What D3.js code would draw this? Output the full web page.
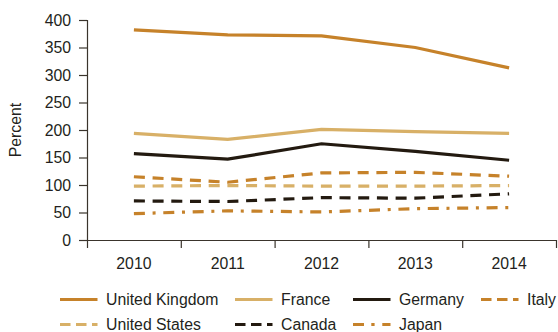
<!DOCTYPE html>
<html><head><meta charset="utf-8">
<script src="https://cdn.jsdelivr.net/npm/d3@7"></script>
<style>
html,body{margin:0;padding:0;background:#fff;}
svg text{font-family:"Liberation Sans",Arial,Helvetica,sans-serif;fill:#231f20;}
</style></head>
<body><svg id="c" width="558" height="332"></svg>
<script>
const years = ["2010","2011","2012","2013","2014"];
const yTicks = [0,50,100,150,200,250,300,350,400];
const seriesNames = ["United Kingdom","France","Germany","Italy","United States","Canada","Japan"];
const ukValues = [382,373,371,350,313];
const franceValues = [194,183,201,197,194];
const germanyValues = [157,147,175,161,145];
const italyValues = [115,105,122,123,116];
const usValues = [98,99,98,98,99];
const canadaValues = [71,70,77,76,84];
const japanValues = [48,53,51,57,59];

const ORANGE = "#c6822a", TAN = "#d8b067", DARK = "#231a10";
const DASH = "11,7.7", DASHDOT = "11,7.7,3,7.7";
const LDASH = "10.5,5.5", LDASHDOT = "11,7.3,3.3,7.7";
const series = [
  {name:seriesNames[0], values:ukValues, color:ORANGE, dash:null, ldash:null},
  {name:seriesNames[1], values:franceValues, color:TAN, dash:null, ldash:null},
  {name:seriesNames[2], values:germanyValues, color:DARK, dash:null, ldash:null},
  {name:seriesNames[3], values:italyValues, color:ORANGE, dash:DASH, ldash:LDASH},
  {name:seriesNames[4], values:usValues, color:TAN, dash:DASH, ldash:LDASH},
  {name:seriesNames[5], values:canadaValues, color:DARK, dash:DASH, ldash:LDASH},
  {name:seriesNames[6], values:japanValues, color:ORANGE, dash:DASHDOT, ldash:LDASHDOT}
];

const svg = d3.select("#c");
const mLeft = 87, mRight = 556, mTop = 20, mBottom = 240;
const FS = "15.8px";

const x = d3.scaleBand().domain(years).range([mLeft, mRight]).paddingInner(0).paddingOuter(0);
const xEdges = d3.scaleLinear().domain([0, years.length]).range([mLeft, mRight]);
const y = d3.scaleLinear().domain([0, 400]).range([mBottom, mTop]);

const axisColor = "#3a342c";

// Y axis
const gy = svg.append("g").attr("transform", `translate(${mLeft},0)`)
  .call(d3.axisLeft(y).tickValues(yTicks).tickSize(8).tickPadding(8));
gy.select(".domain").attr("stroke", axisColor).attr("stroke-width", 1.2);
gy.selectAll(".tick line").attr("stroke", axisColor).attr("stroke-width", 1.2);
gy.selectAll(".tick text").style("font-size", FS).attr("fill", "#231f20");

// X axis tick marks at band edges
const gx = svg.append("g").attr("transform", `translate(0,${mBottom})`)
  .call(d3.axisBottom(xEdges).tickValues(d3.range(0, years.length + 1)).tickSize(8).tickFormat(""));
gx.select(".domain").attr("stroke", axisColor).attr("stroke-width", 1.2).attr("d", `M${mLeft},0.5H${mRight}`);
gx.selectAll(".tick line").attr("stroke", axisColor).attr("stroke-width", 1.2);

// X labels at band centres
const gxl = svg.append("g").attr("transform", `translate(0,${mBottom})`)
  .call(d3.axisBottom(x).tickSize(0).tickPadding(18));
gxl.select(".domain").remove();
gxl.selectAll(".tick text").style("font-size", FS).attr("fill", "#231f20");

// Y title
svg.append("text").attr("transform", "translate(20.5,130) rotate(-90)")
  .attr("text-anchor", "middle").style("font-size", FS).text("Percent");

// Lines
const line = d3.line().x((d, i) => x(years[i]) + x.bandwidth() / 2).y(d => y(d));
svg.append("g").selectAll("path").data(series.slice().reverse()).join("path")
  .attr("d", d => line(d.values))
  .attr("fill", "none")
  .attr("stroke", d => d.color)
  .attr("stroke-width", 3.2)
  .attr("stroke-dasharray", d => d.dash);

// Legend
const legendPos = [
  [60, 299.5], [235, 299.5], [353, 299.5], [481, 299.5],
  [60, 324.5], [235, 324.5], [353, 324.5]
];
const lg = svg.append("g").selectAll("g").data(series).join("g")
  .attr("transform", (d, i) => `translate(${legendPos[i][0]},${legendPos[i][1]})`);
lg.append("line").attr("x1", 0).attr("x2", 37.5).attr("y1", 0).attr("y2", 0)
  .attr("stroke", d => d.color).attr("stroke-width", 3.2)
  .attr("stroke-dasharray", d => d.ldash);
lg.append("text").attr("x", 46).attr("y", 5.3).style("font-size", FS).text(d => d.name);
</script></body></html>
